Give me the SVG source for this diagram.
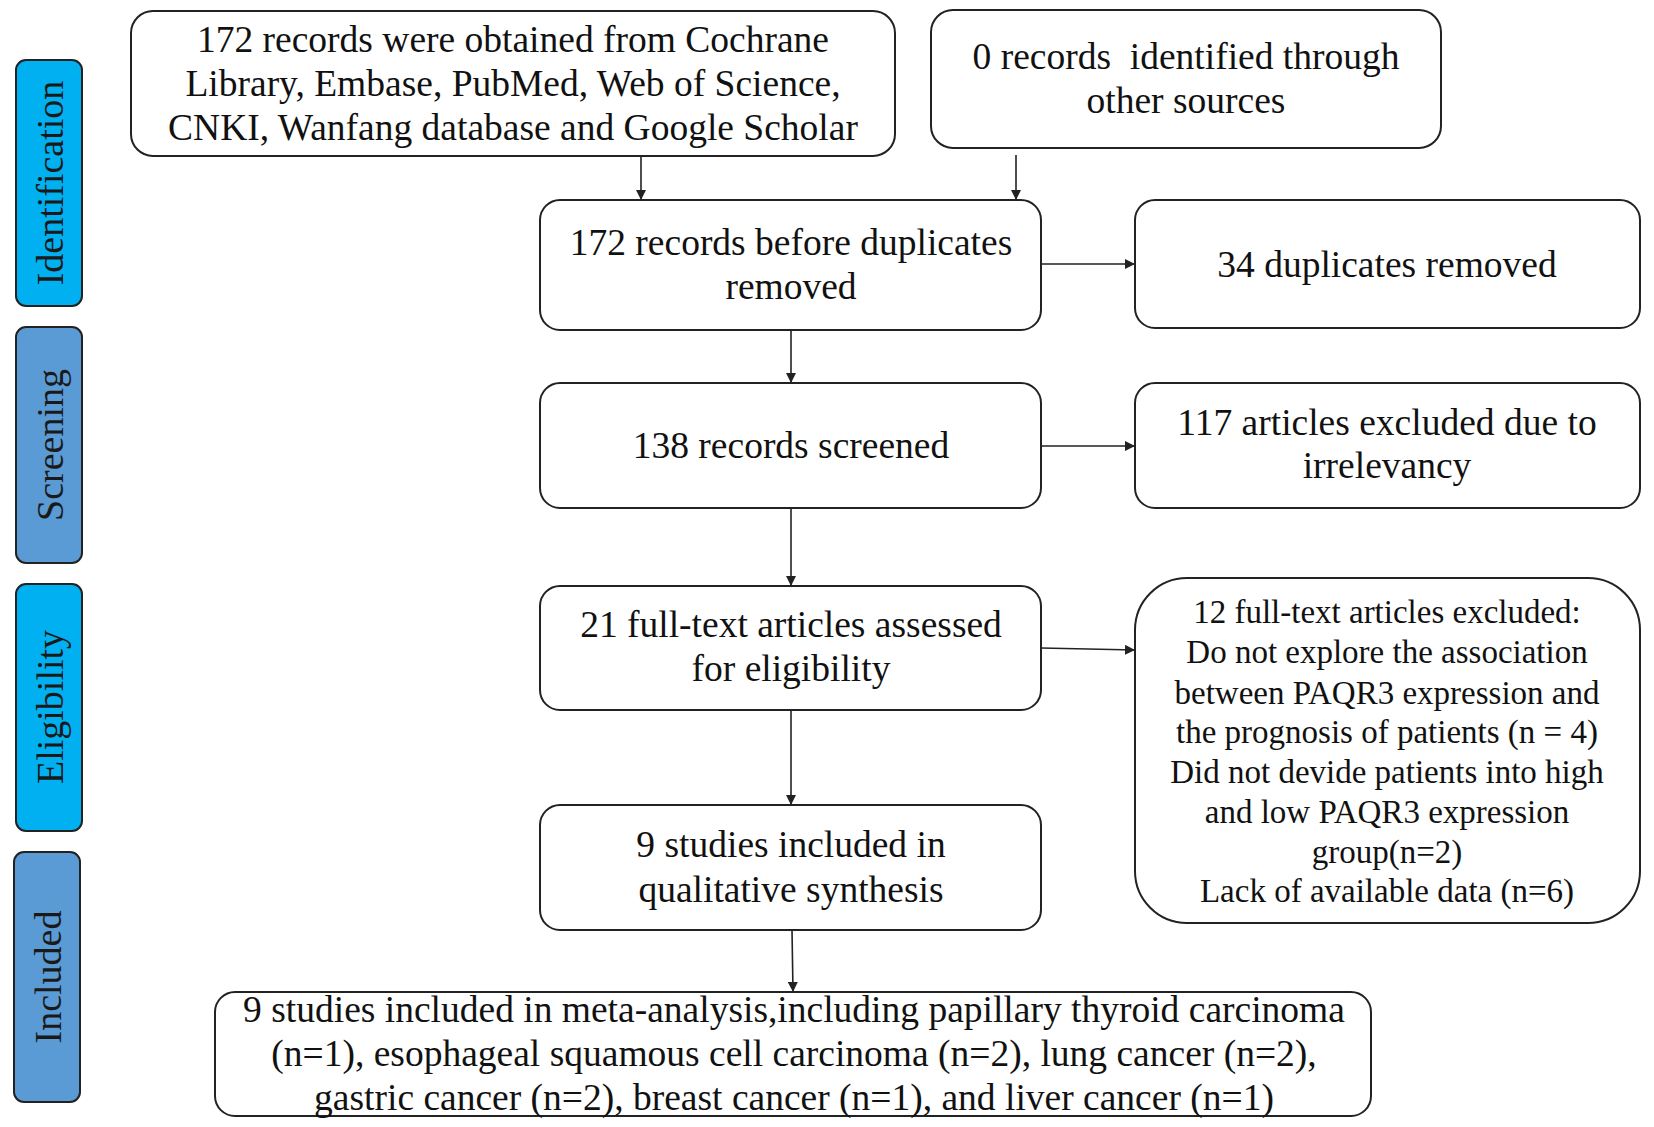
<svg xmlns="http://www.w3.org/2000/svg" width="1654" height="1127" viewBox="0 0 1654 1127">
<style>
.box{fill:#fff;stroke:#222;stroke-width:2}
.lab{stroke:#222;stroke-width:2}
.t{font-family:"Liberation Serif","Times New Roman",serif;font-size:37.5px;fill:#111;text-anchor:middle}
.s{font-size:33px}
.lt{font-family:"Liberation Serif","Times New Roman",serif;font-size:38px;fill:#1a1a1a;text-anchor:middle;dominant-baseline:central}
.c{stroke:#222;stroke-width:1.6;fill:none;marker-end:url(#ah)}
</style>
<defs>
<marker id="ah" viewBox="0 0 10 10" refX="10" refY="5" markerWidth="10" markerHeight="10" markerUnits="userSpaceOnUse" orient="auto">
<path d="M0,0 L10,5 L0,10 z" fill="#222"/>
</marker>
</defs>
<rect width="1654" height="1127" fill="#fff"/>
<g id="stage-identification">
<rect class="lab" x="16" y="60" width="66" height="246" rx="10" fill="#00B0F0"/>
<text class="lt" transform="translate(50,183) rotate(-90)">Identification</text>
</g>
<g id="stage-screening">
<rect class="lab" x="16" y="327" width="66" height="236" rx="10" fill="#5B9BD5"/>
<text class="lt" transform="translate(50,445) rotate(-90)">Screening</text>
</g>
<g id="stage-eligibility">
<rect class="lab" x="16" y="584" width="66" height="247" rx="10" fill="#00B0F0"/>
<text class="lt" transform="translate(50,707) rotate(-90)">Eligibility</text>
</g>
<g id="stage-included">
<rect class="lab" x="14" y="852" width="66" height="250" rx="10" fill="#5B9BD5"/>
<text class="lt" transform="translate(48,977) rotate(-90)">Included</text>
</g>
<g id="connectors">
<line class="c" x1="641" y1="156" x2="641" y2="200"/>
<line class="c" x1="1016" y1="155" x2="1016" y2="200"/>
<line class="c" x1="1041" y1="264" x2="1135" y2="264"/>
<line class="c" x1="791" y1="330" x2="791" y2="383"/>
<line class="c" x1="1041" y1="446" x2="1135" y2="446"/>
<line class="c" x1="791" y1="508" x2="791" y2="586"/>
<line class="c" x1="1041" y1="648" x2="1135" y2="650"/>
<line class="c" x1="791" y1="710" x2="791" y2="805"/>
<line class="c" x1="792" y1="930" x2="793" y2="992"/>
</g>
<g id="node-databases">
<rect class="box" x="131" y="11" width="764" height="145" rx="22"/>
<text class="t" x="513" y="52">172 records were obtained from Cochrane</text>
<text class="t" x="513" y="96">Library, Embase, PubMed, Web of Science,</text>
<text class="t" x="513" y="140">CNKI, Wanfang database and Google Scholar</text>
</g>
<g id="node-other-sources">
<rect class="box" x="931" y="10" width="510" height="138" rx="22"/>
<text class="t" x="1186" y="69" xml:space="preserve">0 records  identified through</text>
<text class="t" x="1186" y="113">other sources</text>
</g>
<g id="node-before-duplicates">
<rect class="box" x="540" y="200" width="501" height="130" rx="20"/>
<text class="t" x="791" y="255">172 records before duplicates</text>
<text class="t" x="791" y="299">removed</text>
</g>
<g id="node-duplicates-removed">
<rect class="box" x="1135" y="200" width="505" height="128" rx="20"/>
<text class="t" x="1387" y="277">34 duplicates removed</text>
</g>
<g id="node-screened">
<rect class="box" x="540" y="383" width="501" height="125" rx="20"/>
<text class="t" x="791" y="458">138 records screened</text>
</g>
<g id="node-irrelevant">
<rect class="box" x="1135" y="383" width="505" height="125" rx="20"/>
<text class="t" x="1387" y="435">117 articles excluded due to</text>
<text class="t" x="1387" y="478">irrelevancy</text>
</g>
<g id="node-full-text">
<rect class="box" x="540" y="586" width="501" height="124" rx="20"/>
<text class="t" x="791" y="637">21 full-text articles assessed</text>
<text class="t" x="791" y="681">for eligibility</text>
</g>
<g id="node-full-text-excluded">
<rect class="box" x="1135" y="578" width="505" height="345" rx="52"/>
<text class="t s" x="1387" y="623">12 full-text articles excluded:</text>
<text class="t s" x="1387" y="663">Do not explore the association</text>
<text class="t s" x="1387" y="704">between PAQR3 expression and</text>
<text class="t s" x="1387" y="743">the prognosis of patients (n = 4)</text>
<text class="t s" x="1387" y="783">Did not devide patients into high</text>
<text class="t s" x="1387" y="823">and low PAQR3 expression</text>
<text class="t s" x="1387" y="863">group(n=2)</text>
<text class="t s" x="1387" y="902">Lack of available data (n=6)</text>
</g>
<g id="node-qualitative">
<rect class="box" x="540" y="805" width="501" height="125" rx="20"/>
<text class="t" x="791" y="857">9 studies included in</text>
<text class="t" x="791" y="902">qualitative synthesis</text>
</g>
<g id="node-meta-analysis">
<rect class="box" x="215" y="992" width="1156" height="124" rx="20"/>
<text class="t" x="794" y="1022">9 studies included in meta-analysis,including papillary thyroid carcinoma</text>
<text class="t" x="794" y="1066">(n=1), esophageal squamous cell carcinoma (n=2), lung cancer (n=2),</text>
<text class="t" x="794" y="1110">gastric cancer (n=2), breast cancer (n=1), and liver cancer (n=1)</text>
</g>
</svg>
